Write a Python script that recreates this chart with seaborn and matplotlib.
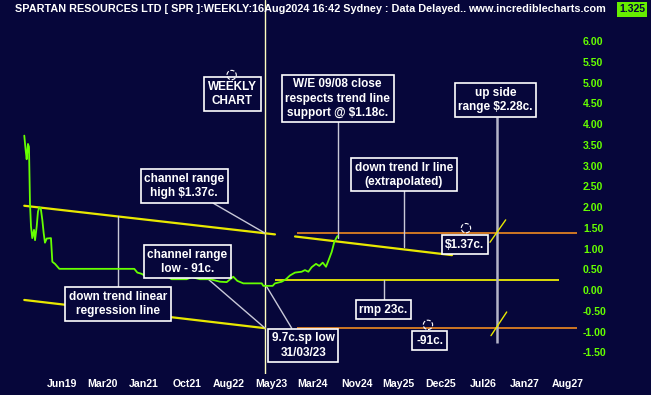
import matplotlib
matplotlib.use("Agg")
import matplotlib.pyplot as plt
import seaborn as sns

# weekly closes (x = weeks from first bar)
price_weeks = [0.3, 1.8, 2.9, 4.3, 5.4, 6.5, 7.6, 9.0, 10.9, 12.0, 13.8, 15.2, 16.6,
               18.2, 19.9, 21.4, 22.8, 24.7, 29.3, 30.8, 33.7, 38.4, 119.9, 123.2,
               127.9, 131.5, 135.1, 142.4, 149.7, 155.1, 156.8, 160.5, 176.8, 182.3,
               191.3, 202.2, 213.0, 220.3, 227.5, 231.9, 238.4, 258.4, 260.1, 270.3,
               272.8, 280.1, 284.8, 289.1, 294.6, 301.8, 305.4, 309.1, 312.7, 317.4,
               321.0, 324.7, 328.3, 331.8, 334.5, 337.3, 339.9, 340.8]
price_values = [3.72, 3.37, 3.15, 3.52, 3.45, 2.09, 1.53, 1.25, 1.45, 1.20, 1.53, 1.89,
                1.99, 1.97, 1.69, 1.37, 1.14, 1.24, 1.25, 0.68, 0.63, 0.51, 0.51, 0.42,
                0.39, 0.34, 0.42, 0.44, 0.47, 0.50, 0.31, 0.26, 0.26, 0.31, 0.26, 0.26,
                0.20, 0.19, 0.32, 0.22, 0.16, 0.16, 0.10, 0.10, 0.16, 0.20, 0.26, 0.35,
                0.42, 0.44, 0.48, 0.44, 0.55, 0.63, 0.58, 0.66, 0.56, 0.76, 0.92, 1.16,
                1.27, 1.30]

# drawn trend lines
upper_weeks = [0.3, 272.8]
upper_values = [2.03, 1.34]
extrap_weeks = [294.6, 465.2]
extrap_values = [1.29, 0.84]
lower_weeks = [0.3, 262.0]
lower_values = [-0.24, -0.92]
range_high = 1.37
range_low = -0.92
rmp = 0.23
level_start = 296.4
level_end = 600.8
rmp_start = 272.8
rmp_end = 581.5
low_week = 262.5
upside_week = 514.1
upside_tick_weeks = [[506.5, 523.6], [507.6, 524.7]]
upside_tick_values = [[1.15, 1.69], [-1.10, -0.53]]

x_tick_weeks = [40.8, 85.3, 130.2, 177.4, 222.6, 269.2, 314.1, 361.6, 406.8,
                452.4, 499.2, 544.6, 590.5]
x_tick_labels = ["Jun19", "Mar20", "Jan21", "Oct21", "Aug22", "May23", "Mar24",
                 "Nov24", "May25", "Dec25", "Jul26", "Jan27", "Aug27"]
y_ticks = [-1.5, -1.0, -0.5, 0.0, 0.5, 1.0, 1.5, 2.0, 2.5, 3.0, 3.5, 4.0, 4.5,
           5.0, 5.5, 6.0]

# text boxes: (label, week, value)
notes = [
    ("WEEKLY\nCHART", 226.6, 4.72),
    ("W/E 09/08 close\nrespects trend line\nsupport @ $1.18c.", 340.8, 4.61),
    ("down trend lr line\n(extrapolated)", 412.9, 2.78),
    ("up side\nrange $2.28c.", 512.5, 4.58),
    ("$1.37c.", 479.3, 1.09),
    ("rmp 23c.", 390.6, -0.47),
    ("-91c.", 440.8, -1.22),
    ("channel range\nhigh $1.37c.", 174.1, 2.51),
    ("channel range\nlow - 91c.", 177.4, 0.68),
    ("9.7c.sp low\n31/03/23", 303.6, -1.34),
    ("down trend linear\nregression line", 102.1, -0.34),
]
# connector lines: (weeks, values)
connectors = [
    ([341.3, 341.3], [4.04, 1.25]),
    ([413.0, 413.0], [2.39, 1.04]),
    ([391.0, 391.0], [-0.27, 0.23]),
    ([205.8, 262.0], [2.09, 1.37]),
    ([200.3, 262.0], [0.26, -0.92]),
    ([291.0, 263.8], [-0.92, 0.08]),
    ([102.5, 102.5], [0.06, 1.79]),
]
handle_weeks = [225.7, 480.4, 439.1]
handle_values = [5.18, 1.49, -0.84]

bg = "#06063a"
green = "#66ff00"
yellow = "#e8e800"
orange = "#f08a20"

sns.set_style("dark")
plt.rcParams["font.family"] = ["Liberation Sans", "DejaVu Sans"]
plt.rcParams["font.weight"] = "bold"

fig = plt.figure(figsize=(6.51, 3.95), dpi=100, facecolor=bg)
ax = fig.add_axes([0, 21 / 395, 578 / 651, 374 / 395])
ax.set_facecolor(bg)
for s in ax.spines.values():
    s.set_visible(False)

sns.lineplot(x=price_weeks, y=price_values, color=green, lw=1.3, ax=ax, zorder=4)

ax.plot(upper_weeks, upper_values, color=yellow, lw=1.6, zorder=3)
ax.plot(extrap_weeks, extrap_values, color=yellow, lw=1.6, zorder=3)
ax.plot(lower_weeks, lower_values, color=yellow, lw=1.6, zorder=3)
ax.hlines(range_high, level_start, level_end, color=orange, lw=1.2, zorder=2)
ax.hlines(range_low, level_start, level_end, color=orange, lw=1.2, zorder=2)
ax.hlines(rmp, rmp_start, rmp_end, color="#ffff00", lw=1.2, zorder=2)
ax.axvline(low_week, color="#ffffc0", lw=1.0, zorder=2)
ax.vlines(upside_week, -1.28, 4.18, color="#b4b4c8", lw=1.8, zorder=2)
for wk, vals in zip(upside_tick_weeks, upside_tick_values):
    ax.plot(wk, vals, color=yellow, lw=1.0, zorder=3)

for wk, vals in connectors:
    ax.plot(wk, vals, color="#c8c8d8", lw=1.0, zorder=3)

for label, wk, val in notes:
    ax.text(wk, val, label, color="white", fontsize=8.5, fontweight="bold",
            ha="center", va="center", linespacing=1.25, zorder=6,
            bbox=dict(boxstyle="square,pad=0.3", fc=bg, ec="white", lw=1.2))

ax.scatter(handle_weeks, handle_values, s=45, facecolors="none", edgecolors="white",
           linewidths=0.8, linestyle="--", zorder=7)

ax.set_xlim(-26.09, 602.2)
ax.set_ylim(-2.024, 6.988)
ax.set_xticks(x_tick_weeks)
ax.set_xticklabels(x_tick_labels)
ax.set_yticks(y_ticks)
ax.set_yticklabels([f"{v:.2f}" for v in y_ticks])
ax.yaxis.tick_right()
ax.tick_params(axis="x", length=0, pad=3.5, labelsize=7.6, labelcolor="white")
ax.tick_params(axis="y", length=0, pad=3.6, labelsize=7.6, labelcolor=green)
for t in ax.get_yticklabels():
    t.set_horizontalalignment("left")
ax.grid(False)
ax.set_xlabel("")
ax.set_ylabel("")

fig.text(15 / 651, 1 - 9.5 / 395,
         "SPARTAN RESOURCES LTD [ SPR ]:WEEKLY:16Aug2024 16:42 Sydney : Data Delayed..",
         color="white", fontsize=7.8, fontweight="bold", va="center", ha="left")
fig.text(468 / 651, 1 - 9.5 / 395, "www.incrediblecharts.com",
         color="white", fontsize=7.8, fontweight="bold", va="center", ha="left")
fig.text(632 / 651, 1 - 9.5 / 395, "1.325", color="#06063a", fontsize=7.6,
         fontweight="bold", va="center", ha="center",
         bbox=dict(boxstyle="square,pad=0.2", fc="#66ee00", ec="none"))

fig.savefig("out.png", dpi=100, facecolor=bg)
